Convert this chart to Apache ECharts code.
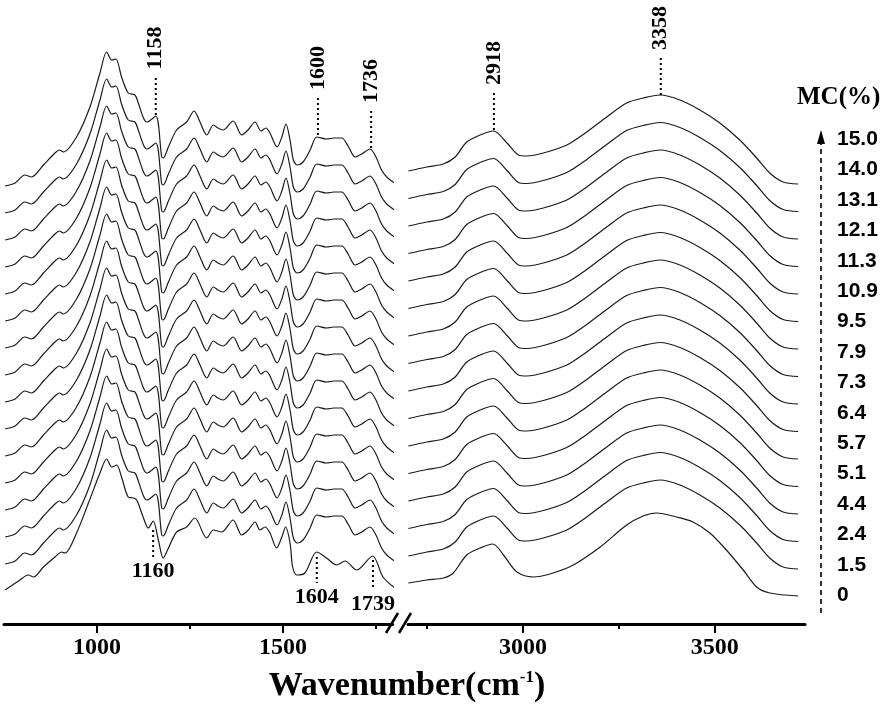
<!DOCTYPE html>
<html>
<head>
<meta charset="utf-8">
<script src="https://cdn.jsdelivr.net/npm/echarts@6.0.0/dist/echarts.min.js"></script>
<style>
  html, body { margin: 0; padding: 0; background: #fff; }
  #chart { width: 886px; height: 706px; }
</style>
</head>
<body>
<div id="chart"></div>
<script>
// moisture content of each spectrum, bottom to top
const mcLevels = ['0', '1.5', '2.4', '4.4', '5.1', '5.7', '6.4', '7.3', '7.9', '9.5', '10.9', '11.3', '12.1', '13.1', '14.0', '15.0']

// fingerprint region, spectra 1.5 .. 15.0  [wavenumber, absorbance]
const leftWet = [
  [753, 0.03], [780, 0.06], [806, 0.14], [824, 0.12], [856, 0.24], [887, 0.36], [899, 0.39], [909, 0.37],
  [945, 0.52], [981, 0.82], [1008, 1.16], [1026, 1.37], [1040, 1.29], [1051, 1.30], [1066, 1.12], [1084, 0.96],
  [1102, 0.94], [1111, 0.86], [1125, 0.71], [1134, 0.67], [1158, 0.73], [1174, 0.32], [1178, 0.31], [1192, 0.42],
  [1214, 0.59], [1241, 0.67], [1261, 0.78], [1277, 0.67], [1295, 0.54], [1313, 0.64], [1325, 0.61], [1339, 0.59],
  [1366, 0.68], [1389, 0.54], [1406, 0.59], [1425, 0.67], [1441, 0.58], [1454, 0.61], [1465, 0.56], [1484, 0.42],
  [1497, 0.52], [1508, 0.65], [1519, 0.49], [1528, 0.29], [1538, 0.24], [1554, 0.27], [1573, 0.39], [1591, 0.52],
  [1617, 0.50], [1637, 0.51], [1658, 0.51], [1675, 0.43], [1694, 0.32], [1712, 0.35], [1734, 0.40], [1750, 0.32],
  [1765, 0.19], [1779, 0.12], [1796, 0.07], [1801, 0.06]
]
// fingerprint region, dry spectrum (0)
const leftDry = [
  [753, 0.04], [793, 0.14], [815, 0.19], [829, 0.17], [856, 0.27], [887, 0.37], [905, 0.42], [914, 0.41],
  [945, 0.61], [977, 0.91], [1008, 1.21], [1026, 1.35], [1040, 1.27], [1053, 1.29], [1066, 1.17], [1084, 0.97],
  [1098, 0.96], [1107, 0.94], [1124, 0.77], [1138, 0.66], [1151, 0.73], [1165, 0.54], [1178, 0.36], [1192, 0.46],
  [1214, 0.62], [1241, 0.67], [1263, 0.76], [1295, 0.56], [1313, 0.64], [1335, 0.62], [1366, 0.74], [1389, 0.59],
  [1407, 0.64], [1425, 0.72], [1438, 0.64], [1452, 0.67], [1465, 0.61], [1483, 0.46], [1497, 0.57], [1507, 0.67],
  [1519, 0.51], [1526, 0.27], [1537, 0.19], [1559, 0.21], [1591, 0.42], [1617, 0.36], [1644, 0.29], [1667, 0.33],
  [1698, 0.24], [1741, 0.38], [1769, 0.17], [1801, 0.06]
]
// C-H / O-H region
const rightWet = [
  [2701, 0.18], [2749, 0.22], [2792, 0.25], [2823, 0.32], [2853, 0.47], [2888, 0.54], [2923, 0.58], [2958, 0.46],
  [2988, 0.34], [3010, 0.33], [3053, 0.36], [3114, 0.44], [3166, 0.57], [3218, 0.72], [3270, 0.86], [3313, 0.91],
  [3357, 0.94], [3409, 0.89], [3461, 0.79], [3513, 0.66], [3565, 0.49], [3609, 0.31], [3643, 0.16], [3678, 0.07],
  [3717, 0.05]
]
const rightDry = [
  [2701, 0.11], [2749, 0.14], [2792, 0.16], [2818, 0.21], [2853, 0.39], [2888, 0.46], [2921, 0.50], [2949, 0.39],
  [2984, 0.22], [3027, 0.17], [3070, 0.20], [3131, 0.29], [3201, 0.47], [3270, 0.69], [3313, 0.78], [3348, 0.81],
  [3400, 0.77], [3443, 0.72], [3487, 0.61], [3530, 0.44], [3574, 0.24], [3609, 0.07], [3643, 0.01], [3717, -0.02]
]

// vertical stacking offset of each spectrum
const offsetsLeft = [0.30, 0.57, 0.84, 1.11, 1.38, 1.65, 1.92, 2.19, 2.46, 2.73, 3.00, 3.27, 3.54, 3.81, 4.08, 4.35]
const offsetsRight = [0.30, 0.50, 0.775, 1.05, 1.325, 1.60, 1.875, 2.15, 2.425, 2.70, 2.975, 3.25, 3.525, 3.80, 4.075, 4.35]

const leftMajor = [1000, 1500]
const leftMinor = [1250, 1750]
const rightMajor = [3000, 3500]
const rightMinor = [2750, 3250]

// peak labels: above the top spectrum and below the bottom one
const topPeaks = [
  { text: '1158', side: 0, wn: 1158, v: 5.09 },
  { text: '1600', side: 0, wn: 1594, v: 4.89 },
  { text: '1736', side: 0, wn: 1737, v: 4.76 },
  { text: '2918', side: 1, wn: 2924, v: 4.94 },
  { text: '3358', side: 1, wn: 3359, v: 5.29 }
]
const bottomPeaks = [
  { text: '1160', wn: 1151, v0: 0.94, v1: 0.67 },
  { text: '1604', wn: 1591, v0: 0.67, v1: 0.41 },
  { text: '1739', wn: 1742, v0: 0.64, v1: 0.34 }
]

const serif = "'Times New Roman', 'Liberation Serif', serif"
const sans = 'Liberation Sans'

const chart = echarts.init(document.getElementById('chart'))

const mainAxis = (grid, min, max, major) => ({
  gridIndex: grid,
  type: 'value',
  position: 'bottom',
  min,
  max,
  axisLine: { show: true, onZero: false, lineStyle: { color: '#000', width: 3 } },
  axisTick: { show: true, customValues: major, length: 9, lineStyle: { color: '#000', width: 2 } },
  axisLabel: {
    customValues: major,
    formatter: v => String(v),
    margin: 12,
    color: '#000',
    fontFamily: serif,
    fontWeight: 'bold',
    fontSize: 24
  },
  splitLine: { show: false }
})

const minorAxis = (grid, min, max, minor) => ({
  gridIndex: grid,
  type: 'value',
  position: 'bottom',
  min,
  max,
  axisLine: { show: false, onZero: false },
  axisTick: { show: true, customValues: minor, length: 5, lineStyle: { color: '#000', width: 2 } },
  axisLabel: { show: false },
  splitLine: { show: false }
})

const hiddenY = (grid) => ({ gridIndex: grid, type: 'value', min: 0, max: 5.84, show: false })

const spectrum = (template, offset, side) => ({
  type: 'line',
  xAxisIndex: side === 0 ? 0 : 2,
  yAxisIndex: side,
  data: template.map(([w, a]) => [w, +(a + offset).toFixed(3)]),
  showSymbol: false,
  smooth: 0.3,
  clip: false,
  silent: true,
  lineStyle: { color: '#1a1a1a', width: 1.2 }
})

const series = []
mcLevels.forEach((mc, i) => {
  series.push(spectrum(i === 0 ? leftDry : leftWet, offsetsLeft[i], 0))
  series.push(spectrum(i === 0 ? rightDry : rightWet, offsetsRight[i], 1))
})

chart.setOption({
  animation: false,
  backgroundColor: '#fff',
  grid: [
    { left: 4, top: 40, width: 388.7, height: 584 },
    { left: 408, top: 40, width: 397, height: 584 },
    { left: 821, top: 124, width: 20, height: 486.4 }
  ],
  xAxis: [
    mainAxis(0, 750, 1795, leftMajor),
    minorAxis(0, 750, 1795, leftMinor),
    mainAxis(1, 2700, 3735, rightMajor),
    minorAxis(1, 2700, 3735, rightMinor),
    { gridIndex: 2, type: 'value', show: false }
  ],
  yAxis: [
    hiddenY(0),
    hiddenY(1),
    {
      gridIndex: 2,
      type: 'category',
      data: mcLevels,
      axisLine: { show: false },
      axisTick: { show: false },
      splitLine: { show: false },
      axisLabel: { inside: true, margin: 16, color: '#000', fontFamily: sans, fontWeight: 'bold', fontSize: 21 }
    }
  ],
  series
})

// annotations, placed through the axes
const toPx = (side, wn, v) => chart.convertToPixel({ xAxisIndex: side === 0 ? 0 : 2, yAxisIndex: side }, [wn, v])
const dotted = { stroke: '#000', lineWidth: 2, lineDash: [2, 3] }
const labelFont = { fill: '#000', fontFamily: serif, fontWeight: 'bold', fontSize: 22, align: 'center', verticalAlign: 'middle' }

const graphic = []
topPeaks.forEach(p => {
  const [x, y] = toPx(p.side, p.wn, p.v)
  graphic.push({ type: 'line', shape: { x1: x, y1: y, x2: x, y2: y - 37 }, style: dotted, silent: true })
  graphic.push({ type: 'text', x: x, y: y - 37 - 30, rotation: Math.PI / 2, style: { text: p.text, ...labelFont }, silent: true })
})
bottomPeaks.forEach(p => {
  const [x, y0] = toPx(0, p.wn, p.v0)
  const y1 = toPx(0, p.wn, p.v1)[1]
  graphic.push({ type: 'line', shape: { x1: x, y1: y0, x2: x, y2: y1 }, style: dotted, silent: true })
  graphic.push({ type: 'text', x: x, y: y1 + 14, style: { text: p.text, ...labelFont }, silent: true })
})

// axis break marks
graphic.push({ type: 'line', shape: { x1: 386, y1: 633, x2: 398, y2: 613 }, style: { stroke: '#000', lineWidth: 2.5 } })
graphic.push({ type: 'line', shape: { x1: 399, y1: 633, x2: 411, y2: 613 }, style: { stroke: '#000', lineWidth: 2.5 } })

// MC arrow
graphic.push({ type: 'line', shape: { x1: 821, y1: 613, x2: 821, y2: 142 }, style: { stroke: '#000', lineWidth: 1.6, lineDash: [5, 4] } })
graphic.push({ type: 'polygon', shape: { points: [[821, 130], [817, 144], [825, 144]] }, style: { fill: '#000' } })
graphic.push({ type: 'text', x: 797, y: 98, style: { text: 'MC(%)', fill: '#000', fontFamily: serif, fontWeight: 'bold', fontSize: 25, align: 'left', verticalAlign: 'middle' } })

// axis title with superscript
graphic.push({
  type: 'text',
  x: 407,
  y: 686,
  style: {
    text: '{a|Wavenumber(cm}{s|-1}{a|)}',
    align: 'center',
    verticalAlign: 'middle',
    rich: {
      a: { fontFamily: serif, fontWeight: 'bold', fontSize: 34, fill: '#000' },
      s: { fontFamily: serif, fontWeight: 'bold', fontSize: 17, fill: '#000', verticalAlign: 'top', padding: [0, 0, 14, 0] }
    }
  }
})

chart.setOption({ graphic })
</script>
</body>
</html>
